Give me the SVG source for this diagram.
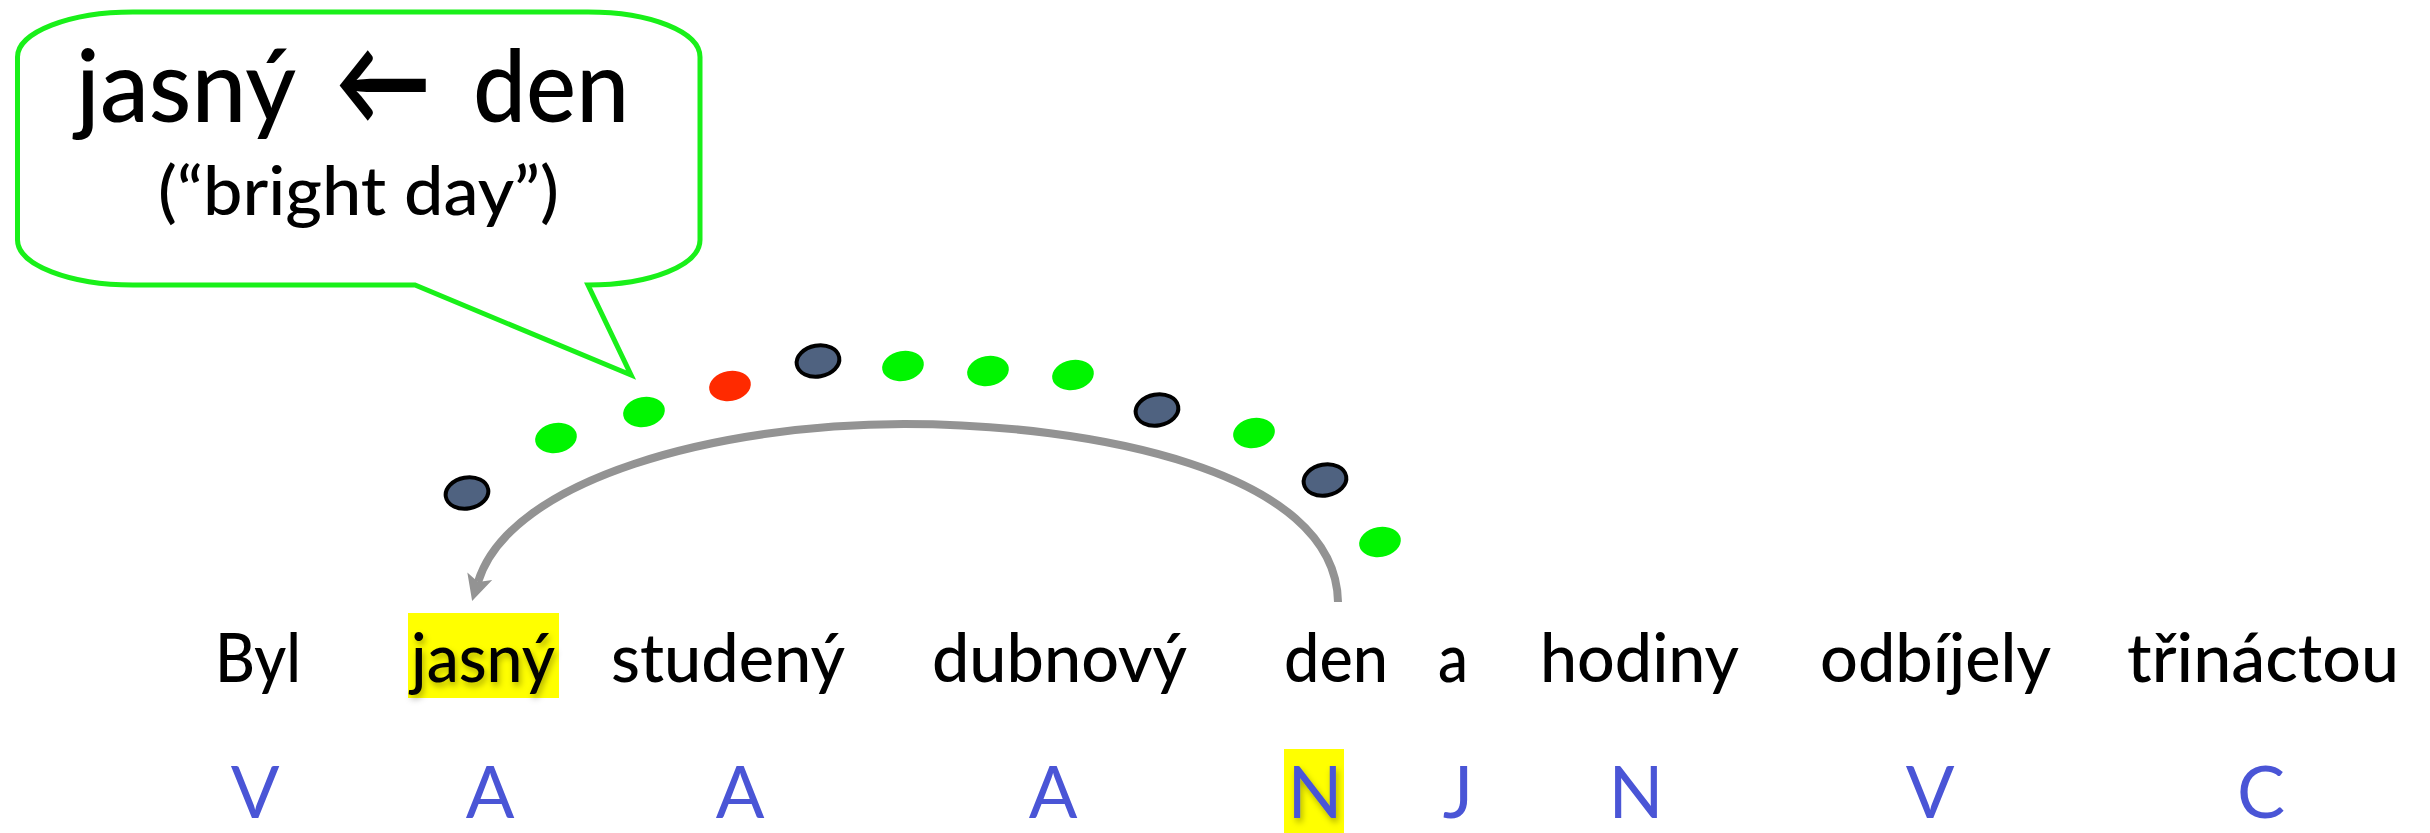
<svg xmlns="http://www.w3.org/2000/svg" width="2430" height="833" viewBox="0 0 2430 833">
<style>
  .w { font-family: Lato, "DejaVu Sans", sans-serif; font-size: 68px; font-weight: 500; fill: #000; }
  .t { font-family: Lato, "DejaVu Sans", sans-serif; font-size: 72px; fill: #4a55d6; text-anchor: middle; }
  .g { fill: #00f500; }
  .d { fill: #4f6280; stroke: #000; stroke-width: 4; }
  .r { fill: #ff2a00; }
  .hl { fill: #ffff00; }
</style>
<defs>
  <marker id="ah" markerUnits="userSpaceOnUse" viewBox="0 0 30 30" markerWidth="30" markerHeight="30" refX="6" refY="15" orient="auto">
    <path d="M0,2 L26,15 L0,28 L6,15 Z" fill="#939393"/>
  </marker>
  <filter id="sh" x="-20%" y="-20%" width="140%" height="140%">
    <feDropShadow dx="2" dy="4" stdDeviation="3" flood-color="#000" flood-opacity="0.3"/>
  </filter>
</defs>
<rect width="2430" height="833" fill="#fff"/>

<g id="callout">
  <path d="M133,12 H588 C651,12 700,32 700,57 V240 C700,265 651,285 588,285 L631,375 L415,285 H133 C70,285 17.5,265 17.5,240 V57 C17.5,32 70,12 133,12 Z" fill="#fff" stroke="#19f019" stroke-width="5" stroke-linejoin="miter"/>
  <text class="w" style="font-size:100px" y="122"><tspan x="76" textLength="220" lengthAdjust="spacingAndGlyphs">jasný</tspan></text>
  <text style="font-family:Lato,'DejaVu Sans',sans-serif;font-size:120px;font-weight:bold" y="124" x="335" textLength="96" lengthAdjust="spacingAndGlyphs">←</text>
  <text class="w" style="font-size:100px" y="122"><tspan x="473" textLength="156" lengthAdjust="spacingAndGlyphs">den</tspan></text>
  <text class="w" y="215" x="158" textLength="401" lengthAdjust="spacingAndGlyphs">(“bright day”)</text>
</g>

<g id="dots">
  <ellipse class="d" cx="467" cy="493" rx="21.5" ry="15.5" transform="rotate(-10 467 493)"/>
  <ellipse class="g" cx="556" cy="438" rx="21" ry="15" transform="rotate(-10 556 438)"/>
  <ellipse class="g" cx="644" cy="412" rx="21" ry="15" transform="rotate(-10 644 412)"/>
  <ellipse class="r" cx="730" cy="386" rx="21" ry="15" transform="rotate(-10 730 386)"/>
  <ellipse class="d" cx="818" cy="361" rx="21.5" ry="15.5" transform="rotate(-10 818 361)"/>
  <ellipse class="g" cx="903" cy="366" rx="21" ry="15" transform="rotate(-10 903 366)"/>
  <ellipse class="g" cx="988" cy="371" rx="21" ry="15" transform="rotate(-10 988 371)"/>
  <ellipse class="g" cx="1073" cy="375" rx="21" ry="15" transform="rotate(-10 1073 375)"/>
  <ellipse class="d" cx="1157" cy="410" rx="21.5" ry="15.5" transform="rotate(-10 1157 410)"/>
  <ellipse class="g" cx="1254" cy="433" rx="21" ry="15" transform="rotate(-10 1254 433)"/>
  <ellipse class="d" cx="1325" cy="480" rx="21.5" ry="15.5" transform="rotate(-10 1325 480)"/>
  <ellipse class="g" cx="1380" cy="542" rx="21" ry="15" transform="rotate(-10 1380 542)"/>
</g>

<g id="connectors">
  <path d="M1338,602 C1336,470 1090,424 904,424 C720,424 510,478 478,582" fill="none" stroke="#939393" stroke-width="8" marker-end="url(#ah)"/>
</g>

<g id="words">
  <g id="w-byl"><text class="w" x="215" y="682" textLength="86" lengthAdjust="spacingAndGlyphs">Byl</text></g>
  <g id="w-jasny">
    <rect class="hl" x="408" y="613" width="151" height="85"/>
    <text class="w" x="411" y="682" textLength="144" lengthAdjust="spacingAndGlyphs" filter="url(#sh)">jasný</text>
  </g>
  <g id="w-studeny"><text class="w" x="611" y="682" textLength="234" lengthAdjust="spacingAndGlyphs">studený</text></g>
  <g id="w-dubnovy"><text class="w" x="932" y="682" textLength="255" lengthAdjust="spacingAndGlyphs">dubnový</text></g>
  <g id="w-den"><text class="w" x="1284" y="682" textLength="104" lengthAdjust="spacingAndGlyphs">den</text></g>
  <g id="w-a"><text class="w" x="1438" y="682" textLength="30" lengthAdjust="spacingAndGlyphs">a</text></g>
  <g id="w-hodiny"><text class="w" x="1540" y="682" textLength="199" lengthAdjust="spacingAndGlyphs">hodiny</text></g>
  <g id="w-odbijely"><text class="w" x="1820" y="682" textLength="231" lengthAdjust="spacingAndGlyphs">odbíjely</text></g>
  <g id="w-trinactou"><text class="w" x="2127" y="682" textLength="272" lengthAdjust="spacingAndGlyphs">třináctou</text></g>
</g>

<g id="tags">
  <g id="t-1"><text class="t" x="255" y="818">V</text></g>
  <g id="t-2"><text class="t" x="490" y="818">A</text></g>
  <g id="t-3"><text class="t" x="740" y="818">A</text></g>
  <g id="t-4"><text class="t" x="1053" y="818">A</text></g>
  <g id="t-5">
    <rect class="hl" x="1284" y="749" width="60" height="84"/>
    <text class="t" x="1315" y="818" filter="url(#sh)">N</text>
  </g>
  <g id="t-6"><text class="t" x="1458" y="818">J</text></g>
  <g id="t-7"><text class="t" x="1636" y="818">N</text></g>
  <g id="t-8"><text class="t" x="1930" y="818">V</text></g>
  <g id="t-9"><text class="t" x="2261" y="818">C</text></g>
</g>
</svg>
